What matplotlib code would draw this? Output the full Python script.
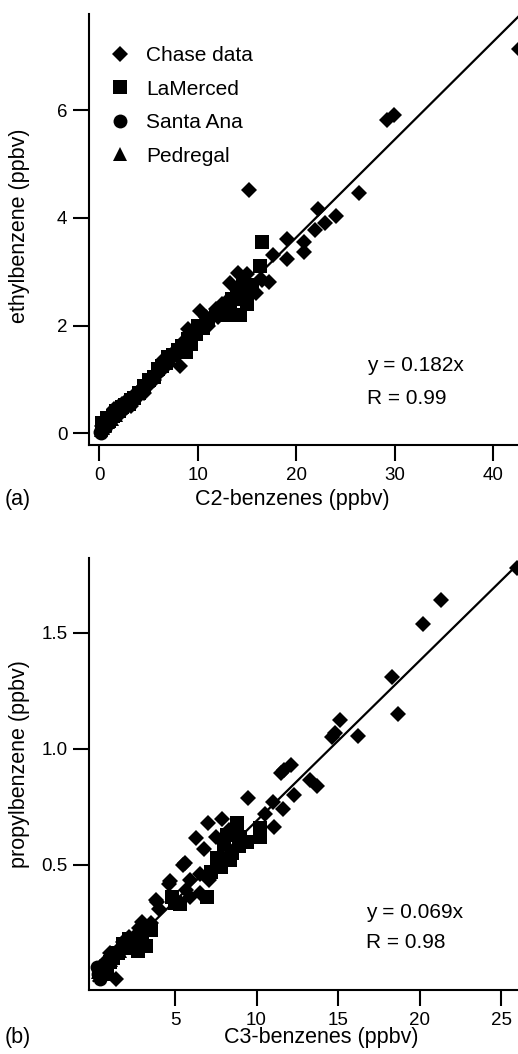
import numpy as np
import matplotlib
matplotlib.use("Agg")
import matplotlib.pyplot as plt

plt.rcParams['font.family'] = ['Liberation Sans', 'DejaVu Sans']

# ---- panel (a): ethylbenzene vs C2-benzenes ----
chase_a_x = [0.3, 0.5, 0.7, 0.8, 0.9, 1.0, 1.1, 1.2, 1.3, 1.5, 1.6, 1.8, 1.9, 2.0, 2.2,
             2.3, 2.5, 2.7, 2.8, 3.0, 3.2, 3.3, 3.4, 3.6, 3.8, 4.0, 4.2, 4.4, 4.5, 4.8,
             5.0, 5.3, 5.5, 5.8, 6.0, 6.3, 6.5, 6.6, 7.0, 7.2, 7.5, 7.8, 8.0, 8.2, 8.5,
             8.8, 9.0, 9.2, 9.5, 9.8, 10.2, 10.5, 10.8, 11.0, 11.5, 11.8, 12.0, 12.5,
             13.0, 13.3, 13.8, 14.1, 14.5, 15.0, 15.2, 15.9, 16.5, 17.2, 17.6, 19.0,
             19.0, 20.8, 20.8, 21.9, 22.2, 22.9, 24.0, 26.4, 29.2, 29.9, 42.6]
chase_a_y = [0.14, 0.12, 0.20, 0.22, 0.28, 0.25, 0.30, 0.30, 0.38, 0.44, 0.36, 0.40, 0.48,
             0.45, 0.38, 0.55, 0.52, 0.60, 0.48, 0.58, 0.50, 0.68, 0.60, 0.66, 0.72, 0.78,
             0.72, 0.85, 0.75, 0.86, 0.95, 1.02, 0.98, 1.07, 1.15, 1.25, 1.20, 1.38, 1.30,
             1.42, 1.45, 1.55, 1.48, 1.25, 1.70, 1.62, 1.94, 1.72, 1.80, 1.90, 2.27, 2.05,
             2.15, 2.00, 2.20, 2.30, 2.15, 2.40, 2.45, 2.80, 2.55, 2.98, 2.70, 2.95, 4.52,
             2.61, 2.85, 2.81, 3.31, 3.60, 3.24, 3.56, 3.37, 3.78, 4.16, 3.91, 4.04, 4.47,
             5.82, 5.92, 7.14]
lam_a_x = [0.3, 0.6, 0.8, 1.0, 1.4, 1.7, 2.0, 2.3, 2.6, 3.0, 3.2, 3.5, 4.0, 4.5, 5.0,
           5.5, 6.0, 6.4, 6.8, 7.0, 7.5, 8.0, 8.4, 8.8, 9.0, 9.3, 9.8, 10.0, 10.5, 11.0,
           11.8, 12.2, 12.5, 12.8, 13.0, 13.3, 13.5, 14.0, 14.3, 14.6, 14.8, 15.0, 15.5,
           16.3, 16.5]
lam_a_y = [0.18, 0.15, 0.28, 0.22, 0.32, 0.42, 0.42, 0.48, 0.52, 0.55, 0.62, 0.65, 0.75,
           0.88, 0.98, 1.05, 1.20, 1.25, 1.30, 1.42, 1.45, 1.55, 1.62, 1.50, 1.75, 1.65,
           1.85, 2.00, 1.95, 2.10, 2.20, 2.25, 2.30, 2.35, 2.20, 2.40, 2.50, 2.65, 2.20,
           2.85, 2.50, 2.40, 2.75, 3.10, 3.55]
sa_a_x = [0.05, 0.15, 0.25, 0.35, 0.5, 0.7]
sa_a_y = [0.02, 0.0, 0.06, 0.08, 0.10, 0.14]
ped_a_x = [0.2, 0.4, 0.6, 0.9, 1.3, 1.7]
ped_a_y = [0.05, 0.10, 0.14, 0.20, 0.27, 0.33]
slope_a = 0.182
r_a = 0.99

# ---- panel (b): propylbenzene vs C3-benzenes ----
chase_b_x = [0.4, 0.8, 1.0, 1.3, 1.36, 1.6, 1.8, 2.0, 2.2, 2.45, 2.6, 2.8, 3.0, 3.05,
             3.3, 3.5, 3.8, 3.9, 4.0, 4.6, 4.7, 5.5, 5.6, 5.7, 5.9, 5.9, 6.3, 6.5, 6.5,
             6.8, 7.0, 7.1, 7.5, 7.9, 8.3, 9.5, 10.5, 11.0, 11.1, 11.5, 11.6, 11.7, 12.1,
             12.3, 13.3, 13.7, 14.6, 14.8, 15.1, 16.2, 18.3, 18.7, 20.2, 21.3, 25.96]
chase_b_y = [0.062, 0.09, 0.12, 0.105, 0.01, 0.14, 0.17, 0.148, 0.19, 0.177, 0.20, 0.23,
             0.256, 0.16, 0.22, 0.25, 0.35, 0.34, 0.31, 0.42, 0.43, 0.50, 0.51, 0.39,
             0.435, 0.36, 0.615, 0.46, 0.38, 0.57, 0.68, 0.435, 0.62, 0.70, 0.65, 0.79,
             0.72, 0.77, 0.665, 0.895, 0.74, 0.91, 0.93, 0.80, 0.866, 0.84, 1.05, 1.07,
             1.125, 1.056, 1.31, 1.15, 1.54, 1.64, 1.78]
lam_b_x = [0.5, 0.8, 1.0, 1.2, 1.5, 1.8, 2.0, 2.2, 2.5, 2.7, 2.9, 3.0, 3.2, 3.5, 4.8,
           5.0, 5.3, 6.95, 7.2, 7.6, 7.8, 8.0, 8.2, 8.4, 8.5, 8.8, 8.9, 9.0, 9.4, 10.2,
           10.2]
lam_b_y = [0.05, 0.03, 0.08, 0.10, 0.12, 0.16, 0.14, 0.18, 0.17, 0.13, 0.18, 0.20, 0.15,
           0.22, 0.36, 0.335, 0.33, 0.36, 0.47, 0.53, 0.49, 0.59, 0.63, 0.52, 0.55, 0.68,
           0.58, 0.62, 0.60, 0.66, 0.62]
sa_b_x = [0.2, 0.3, 0.4, 0.5, 0.7, 1.0]
sa_b_y = [0.06, 0.03, 0.01, 0.05, 0.07, 0.10]
ped_b_x = [0.3, 0.6, 1.1, 1.6, 2.2]
ped_b_y = [0.04, 0.06, 0.09, 0.13, 0.15]
slope_b = 0.069
r_b = 0.98

W, H = 518, 1054
fig = plt.figure(figsize=(W / 100, H / 100), dpi=100)


def px_axes(left, top, right, bottom):
    return fig.add_axes([left / W, 1 - bottom / H, (right - left) / W, (bottom - top) / H])


def style(ax):
    for s in ['top', 'right']:
        ax.spines[s].set_visible(False)
    for s in ['left', 'bottom']:
        ax.spines[s].set_linewidth(1.5)
    ax.tick_params(direction='out', length=11.5, width=1.5, labelsize=13.5, pad=4)


def draw(ax, chase, lam, sa, ped, slope, xmax):
    ax.plot([0, xmax], [0, slope * xmax], color='black', lw=1.6, zorder=2)
    kw = dict(linestyle='none', color='black', mew=0, zorder=3)
    ax.plot(*chase, marker='D', ms=8.2, label='Chase data', **kw)
    ax.plot(*lam, marker='s', ms=9.8, label='LaMerced', **kw)
    ax.plot(*sa, marker='o', ms=10, label='Santa Ana', **kw)
    ax.plot(*ped, marker='^', ms=10, label='Pedregal', **kw)


ax1 = px_axes(89, 14, 518, 445)
style(ax1)
draw(ax1, (chase_a_x, chase_a_y), (lam_a_x, lam_a_y), (sa_a_x, sa_a_y),
     (ped_a_x, ped_a_y), slope_a, 42.5)
ax1.set_xlim(-1.05, 42.5)
ax1.set_ylim(-0.22, 7.79)
ax1.set_xticks([0, 10, 20, 30, 40])
ax1.set_yticks([0, 2, 4, 6])

ax1.legend(loc='upper left', bbox_to_anchor=(109.6 / W, 1 - 46 / H),
           bbox_transform=fig.transFigure, frameon=False, fontsize=15,
           handlelength=1.0, handletextpad=0.75, labelspacing=0.7,
           borderpad=0, borderaxespad=0)

ax2 = px_axes(89, 558, 518, 990)
style(ax2)
draw(ax2, (chase_b_x, chase_b_y), (lam_b_x, lam_b_y), (sa_b_x, sa_b_y),
     (ped_b_x, ped_b_y), slope_b, 26.04)
ax2.set_xlim(-0.28, 26.04)
ax2.set_ylim(-0.039, 1.823)
ax2.set_xticks([5, 10, 15, 20, 25])
ax2.set_yticks([0.5, 1.0, 1.5])
ax2.set_yticklabels(['0.5', '1.0', '1.5'])


def ftext(x, y, s, **kw):
    fig.text(x / W, 1 - y / H, s, **kw)


ftext(20, 226, 'ethylbenzene (ppbv)', rotation=90, ha='center', va='center', fontsize=15.5)
ftext(292, 500, 'C2-benzenes (ppbv)', ha='center', va='center', fontsize=15.5)
ftext(5, 500, '(a)', ha='left', va='center', fontsize=15.5)
ftext(367, 366, 'y = %.3fx' % slope_a, ha='left', va='center', fontsize=15)
ftext(367, 398, 'R = %.2f' % r_a, ha='left', va='center', fontsize=15)

ftext(20, 764, 'propylbenzene (ppbv)', rotation=90, ha='center', va='center', fontsize=15.5)
ftext(321, 1038, 'C3-benzenes (ppbv)', ha='center', va='center', fontsize=15.5)
ftext(5, 1038, '(b)', ha='left', va='center', fontsize=15.5)
ftext(366, 913, 'y = %.3fx' % slope_b, ha='left', va='center', fontsize=15)
ftext(366, 943, 'R = %.2f' % r_b, ha='left', va='center', fontsize=15)

fig.savefig('out.png', dpi=100)
